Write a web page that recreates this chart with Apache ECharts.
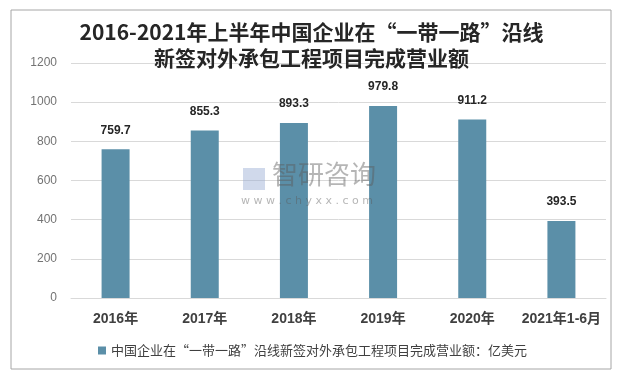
<!DOCTYPE html>
<html>
<head>
<meta charset="utf-8">
<script src="https://cdn.jsdelivr.net/npm/echarts@6/dist/echarts.min.js"></script>
<style>
  html, body { margin: 0; padding: 0; background: #fff; }
  #chart { width: 623px; height: 377px; }
</style>
</head>
<body>
<div id="chart"></div>
<script>
const categories = ["2016年", "2017年", "2018年", "2019年", "2020年", "2021年1-6月"];
const revenue = [759.7, 855.3, 893.3, 979.8, 911.2, 393.5];
const seriesName = "中国企业在“一带一路”沿线新签对外承包工程项目完成营业额：亿美元";

const chart = echarts.init(document.getElementById("chart"));

const option = {
  animation: false,
  textStyle: { fontFamily: "'Liberation Sans', 'Noto Sans CJK SC', sans-serif" },
  title: {
    text: "2016-2021年上半年中国企业在“一带一路”沿线\n新签对外承包工程项目完成营业额",
    left: "center",
    top: 14,
    textStyle: {
      fontSize: 21,
      fontWeight: "bold",
      color: "#262626",
      lineHeight: 26,
      fontFamily: "'Noto Sans CJK SC', sans-serif",
    },
  },
  graphic: [
    {
      type: "rect",
      shape: { x: 11, y: 10, width: 600, height: 359 },
      style: { fill: "none", stroke: "#a6a6a6", lineWidth: 1 },
      silent: true,
    },
    {
      type: "text",
      left: 272,
      top: 161,
      z: 10,
      style: {
        text: "智研咨询",
        fontSize: 26,
        fill: "rgba(90,90,90,0.45)",
        fontFamily: "'Noto Sans CJK SC', sans-serif",
      },
    },
    {
      type: "text",
      left: 241,
      top: 196,
      z: 10,
      style: {
        text: "w w w . c h y x x . c o m",
        fontSize: 11,
        fill: "rgba(90,90,90,0.45)",
        fontFamily: "'DejaVu Sans', sans-serif",
      },
    },
    {
      type: "rect",
      shape: { x: 243, y: 168, width: 22, height: 22 },
      z: 10,
      style: { fill: "rgba(150,170,210,0.45)" },
    },
  ],
  legend: {
    bottom: 15,
    left: 93,
    itemWidth: 8,
    itemHeight: 8,
    itemGap: 4,
    icon: "rect",
    textStyle: {
      fontSize: 13,
      color: "#404040",
      fontFamily: "'Noto Sans CJK SC', sans-serif",
    },
  },
  grid: { left: 71, right: 17, top: 63, bottom: 79 },
  xAxis: {
    type: "category",
    data: categories,
    axisTick: { show: false },
    axisLine: { lineStyle: { color: "#d9d9d9" } },
    axisLabel: {
      interval: 0,
      margin: 14,
      fontSize: 14,
      fontWeight: "bold",
      color: "#404040",
      fontFamily: "'Liberation Sans', 'Noto Sans CJK SC', sans-serif",
    },
  },
  yAxis: {
    type: "value",
    min: 0,
    max: 1200,
    interval: 200,
    axisLine: { show: false },
    axisTick: { show: false },
    splitLine: { lineStyle: { color: "#d9d9d9" } },
    axisLabel: {
      margin: 14,
      fontSize: 12,
      color: "#737373",
      formatter: (v) => String(v),
      fontFamily: "'Liberation Sans', sans-serif",
    },
  },
  series: [
    {
      name: seriesName,
      type: "bar",
      data: revenue,
      barWidth: 28,
      itemStyle: { color: "#5b8fa8" },
      label: {
        show: true,
        position: "top",
        distance: 13,
        fontSize: 12,
        fontWeight: "bold",
        color: "#262626",
        fontFamily: "'Liberation Sans', sans-serif",
      },
    },
  ],
};

chart.setOption(option);
</script>
</body>
</html>
